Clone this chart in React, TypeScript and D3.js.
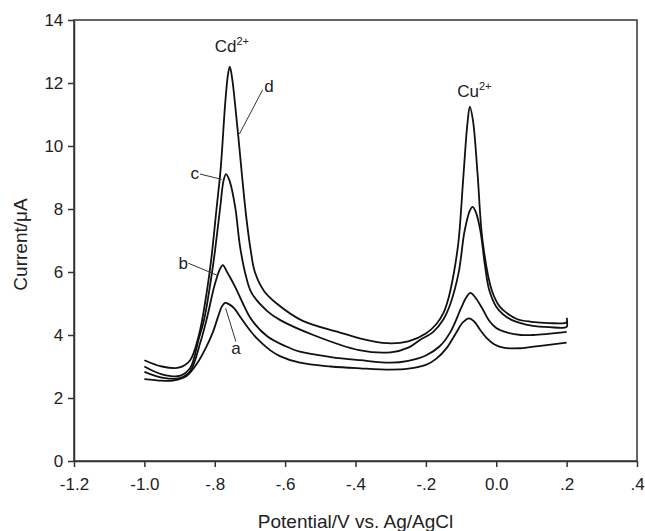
import React, { useEffect, useRef } from "react";
import * as d3 from "d3";

// potential (V) / current (uA)
const curveA: [number, number][] = [
  [-1.0, 2.6], [-0.95, 2.55], [-0.92, 2.55], [-0.88, 2.7], [-0.85, 3.1], [-0.825, 3.6],
  [-0.805, 4.1], [-0.79, 4.6], [-0.78, 4.9], [-0.771, 5.02], [-0.76, 4.98], [-0.745, 4.85],
  [-0.728, 4.58], [-0.7, 4.15], [-0.681, 3.9], [-0.643, 3.52], [-0.615, 3.33], [-0.558, 3.12],
  [-0.47, 3.0], [-0.387, 2.94], [-0.3, 2.9], [-0.25, 2.93], [-0.2, 3.05], [-0.17, 3.25],
  [-0.14, 3.6], [-0.115, 4.05], [-0.095, 4.4], [-0.077, 4.53], [-0.062, 4.42], [-0.045, 4.15],
  [-0.027, 3.9], [-0.005, 3.7], [0.02, 3.6], [0.068, 3.58], [0.12, 3.65], [0.2, 3.76],
];
const curveB: [number, number][] = [
  [-1.0, 2.83], [-0.95, 2.65], [-0.9, 2.63], [-0.87, 2.85], [-0.84, 3.8], [-0.823, 4.5],
  [-0.8, 5.6], [-0.785, 6.1], [-0.777, 6.22], [-0.765, 6.0], [-0.742, 5.53], [-0.72, 5.0],
  [-0.695, 4.48], [-0.65, 3.95], [-0.6, 3.65], [-0.558, 3.47], [-0.47, 3.3], [-0.387, 3.2],
  [-0.3, 3.12], [-0.25, 3.18], [-0.2, 3.35], [-0.16, 3.65], [-0.13, 4.1], [-0.1, 4.85],
  [-0.085, 5.2], [-0.073, 5.34], [-0.06, 5.2], [-0.04, 4.85], [-0.02, 4.45], [0.0, 4.22],
  [0.03, 4.08], [0.07, 4.0], [0.105, 4.0], [0.2, 4.1],
];
const curveC: [number, number][] = [
  [-1.0, 3.0], [-0.95, 2.75], [-0.9, 2.7], [-0.87, 2.95], [-0.845, 3.9], [-0.83, 4.5],
  [-0.805, 6.2], [-0.785, 8.0], [-0.775, 8.9], [-0.768, 9.11], [-0.758, 8.9], [-0.742, 8.07],
  [-0.728, 6.8], [-0.712, 5.9], [-0.695, 5.33], [-0.65, 4.75], [-0.615, 4.48], [-0.52, 4.0],
  [-0.39, 3.52], [-0.3, 3.45], [-0.25, 3.6], [-0.217, 3.84], [-0.179, 4.1], [-0.15, 4.5],
  [-0.13, 5.0], [-0.107, 5.97], [-0.09, 7.3], [-0.075, 7.95], [-0.067, 8.07], [-0.058, 7.9],
  [-0.045, 7.3], [-0.032, 6.2], [-0.02, 5.43], [0.0, 4.9], [0.02, 4.65], [0.05, 4.45],
  [0.1, 4.3], [0.15, 4.25], [0.2, 4.26], [0.2, 4.45],
];
const curveD: [number, number][] = [
  [-1.0, 3.2], [-0.95, 3.0], [-0.9, 2.97], [-0.87, 3.2], [-0.845, 4.0], [-0.825, 5.2],
  [-0.81, 6.4], [-0.795, 8.0], [-0.783, 9.3], [-0.77, 11.4], [-0.762, 12.3], [-0.757, 12.52],
  [-0.75, 12.1], [-0.742, 11.3], [-0.733, 10.3], [-0.722, 9.0], [-0.71, 7.7], [-0.698, 6.7],
  [-0.686, 6.0], [-0.66, 5.4], [-0.624, 5.0], [-0.55, 4.45], [-0.45, 4.1], [-0.39, 3.9],
  [-0.31, 3.74], [-0.25, 3.8], [-0.2, 4.05], [-0.17, 4.35], [-0.15, 4.7], [-0.135, 5.2],
  [-0.12, 6.0], [-0.107, 7.0], [-0.093, 9.1], [-0.082, 10.7], [-0.075, 11.25], [-0.066, 10.8],
  [-0.053, 9.1], [-0.039, 7.0], [-0.013, 5.43], [0.01, 4.9], [0.03, 4.7], [0.06, 4.5],
  [0.1, 4.42], [0.15, 4.38], [0.2, 4.4], [0.2, 4.55],
];

const xTicks = [-1.2, -1.0, -0.8, -0.6, -0.4, -0.2, 0.0, 0.2, 0.4];
const xTickLabels = ["-1.2", "-1.0", "-.8", "-.6", "-.4", "-.2", "0.0", ".2", ".4"];
const yTicks = [0, 2, 4, 6, 8, 10, 12, 14];

// curve letters: text position (tx, ty) and leader line from (fx, fy) to (lx, ly), data units
const curveLabels = [
  { name: "d", tx: -0.659, ty: 11.7, anchor: "start", fx: -0.664, fy: 11.78, lx: -0.73, ly: 10.38 },
  { name: "c", tx: -0.845, ty: 8.95, anchor: "end", fx: -0.842, fy: 9.11, lx: -0.78, ly: 8.94 },
  { name: "b", tx: -0.876, ty: 6.1, anchor: "end", fx: -0.875, fy: 6.28, lx: -0.794, ly: 5.9 },
  { name: "a", tx: -0.74, ty: 3.4, anchor: "middle", fx: -0.74, fy: 3.79, lx: -0.769, ly: 4.85 },
];

const ionLabels = [
  { base: "Cd", sup: "2+", px: -0.8, py: 13.0 },
  { base: "Cu", sup: "2+", px: -0.111, py: 11.56 },
];

const font = "'Liberation Sans', Arial, sans-serif";

export default function App() {
  const ref = useRef<SVGSVGElement>(null);

  useEffect(() => {
    const svg = d3.select(ref.current);
    svg.selectAll("*").remove();

    const margin = { top: 20, right: 8, bottom: 70, left: 74 };
    const width = 645 - margin.left - margin.right;
    const height = 531 - margin.top - margin.bottom;

    const x = d3.scaleLinear().domain([-1.2, 0.4]).range([0, width]);
    const y = d3.scaleLinear().domain([0, 14]).range([height, 0]);

    const g = svg.append("g").attr("transform", `translate(${margin.left},${margin.top})`);

    // frame
    g.append("rect")
      .attr("width", width)
      .attr("height", height)
      .attr("fill", "none")
      .attr("stroke", "#333")
      .attr("stroke-width", 1.5);

    const xAxis = g.append("g")
      .attr("transform", `translate(0,${height})`)
      .call(d3.axisBottom(x).tickValues(xTicks).tickSize(6).tickSizeOuter(0)
        .tickFormat((d, i) => xTickLabels[i]));
    const yAxis = g.append("g")
      .call(d3.axisLeft(y).tickValues(yTicks).tickSize(6).tickSizeOuter(0));

    [xAxis, yAxis].forEach(a => {
      a.select(".domain").attr("stroke", "#333").attr("stroke-width", 1.5);
      a.selectAll(".tick line").attr("stroke", "#333").attr("stroke-width", 1.5);
      a.selectAll(".tick text").attr("fill", "#222").style("font-family", font).style("font-size", "17px");
    });
    xAxis.selectAll(".tick text").attr("dy", "1.2em");
    yAxis.selectAll(".tick text").attr("dx", "-0.1em");

    const line = d3.line<[number, number]>()
      .x(d => x(d[0]))
      .y(d => y(d[1]))
      .curve(d3.curveCatmullRom.alpha(0.5));

    [curveA, curveB, curveC, curveD].forEach(c => {
      g.append("path")
        .datum(c)
        .attr("fill", "none")
        .attr("stroke", "#111")
        .attr("stroke-width", 1.8)
        .attr("d", line);
    });

    // leader lines and letters
    curveLabels.forEach(l => {
      g.append("line")
        .attr("x1", x(l.fx)).attr("y1", y(l.fy))
        .attr("x2", x(l.lx)).attr("y2", y(l.ly))
        .attr("stroke", "#333").attr("stroke-width", 1);
      g.append("text")
        .attr("x", x(l.tx)).attr("y", y(l.ty))
        .attr("text-anchor", l.anchor)
        .style("font-family", font).style("font-size", "17px").attr("fill", "#222")
        .text(l.name);
    });

    // ion labels
    ionLabels.forEach(ion => {
      const t = g.append("text")
        .attr("x", x(ion.px)).attr("y", y(ion.py))
        .style("font-family", font).style("font-size", "17px").attr("fill", "#222");
      t.append("tspan").text(ion.base);
      t.append("tspan").attr("dy", "-0.6em").style("font-size", "11px").text(ion.sup);
    });

    // axis titles
    svg.append("text")
      .attr("x", margin.left + width / 2)
      .attr("y", 528)
      .attr("text-anchor", "middle")
      .style("font-family", font).style("font-size", "19px").attr("fill", "#222")
      .text("Potential/V vs. Ag/AgCl");

    svg.append("text")
      .attr("transform", `translate(27,${margin.top + height / 2 + 4}) rotate(-90)`)
      .attr("text-anchor", "middle")
      .style("font-family", font).style("font-size", "19px").attr("fill", "#222")
      .text("Current/\u03bcA");
  }, []);

  return (
    <svg ref={ref} width={645} height={531}
      style={{ position: "absolute", left: 0, top: 0, background: "#fff" }} />
  );
}
